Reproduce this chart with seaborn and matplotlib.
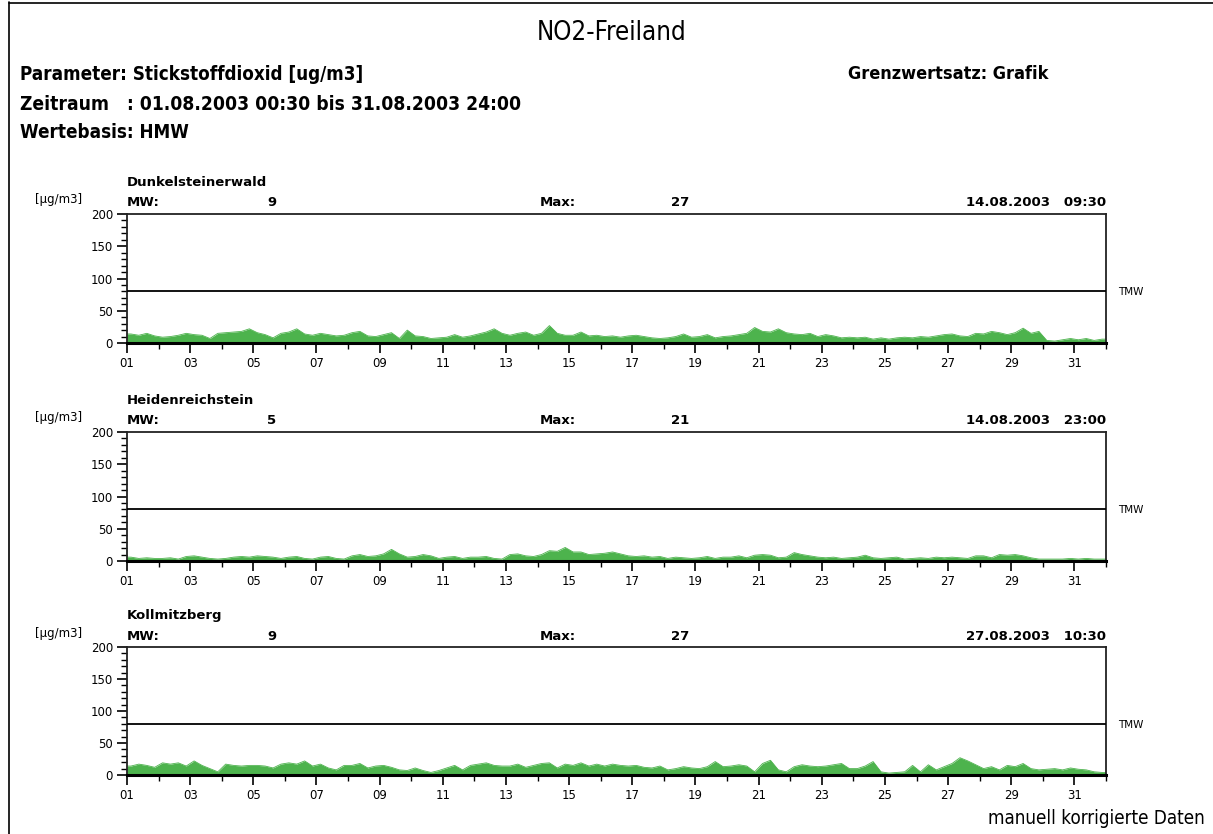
import numpy as np
import pandas as pd
import matplotlib
matplotlib.use("Agg")
import matplotlib.pyplot as plt
from matplotlib.lines import Line2D
from matplotlib.ticker import MultipleLocator, FixedLocator
import seaborn as sns

# ---------------- data (6-hourly readings, 4 per day, 01.08 - 31.08.2003) ----------------
stations = ["Dunkelsteinerwald", "Heidenreichstein", "Kollmitzberg"]
mw_values = ["9", "5", "9"]
max_values = ["27", "21", "27"]
max_times = ["14.08.2003   09:30", "14.08.2003   23:00", "27.08.2003   10:30"]
tmw_limit = 80

dunkel = [14, 12, 15, 11,  9, 10, 12, 15,  13, 12, 7, 15,  16, 17, 18, 22,
          16, 13, 8, 15,  17, 22, 14, 12,  15, 13, 11, 12,  16, 18, 11, 10,
          13, 16, 7, 20,  11, 10, 7, 8,  9, 13, 9, 11,  14, 17, 22, 15,
          12, 15, 17, 12,  15, 27, 15, 12,  12, 17, 11, 12,  10, 11, 9, 11,
          12, 10, 8, 7,  8, 10, 14, 9,  10, 13, 8, 10,  11, 13, 15, 24,
          18, 17, 22, 16,  14, 13, 15, 10,  13, 11, 8, 9,  8, 9, 6, 8,
          6, 8, 9, 8,  10, 9, 11, 13,  14, 11, 10, 15,  14, 18, 16, 13,
          16, 23, 15, 18,  4, 3, 5, 7,  5, 7, 4, 6]

heiden = [6, 4, 5, 4,  4, 5, 3, 7,  8, 6, 4, 3,  4, 6, 7, 6,
          8, 7, 6, 4,  6, 7, 4, 3,  6, 7, 4, 3,  8, 10, 7, 8,
          11, 18, 11, 6,  7, 10, 8, 4,  6, 7, 4, 6,  6, 7, 4, 3,
          10, 11, 8, 7,  10, 16, 15, 21,  14, 14, 10, 11,  12, 14, 11, 8,
          7, 8, 6, 7,  4, 6, 5, 4,  5, 7, 4, 6,  6, 8, 5, 9,
          10, 9, 5, 6,  13, 10, 8, 6,  5, 6, 4, 5,  6, 9, 5, 4,
          5, 6, 3, 4,  5, 4, 6, 5,  6, 5, 4, 8,  8, 5, 10, 9,
          10, 8, 5, 3,  3, 3, 3, 4,  3, 4, 3, 3]

kollm = [14, 17, 15, 12,  19, 17, 19, 14,  22, 15, 10, 5,  17, 15, 14, 15,
         15, 14, 11, 17,  19, 17, 22, 14,  17, 11, 8, 15,  15, 18, 11, 14,
         15, 12, 8, 7,  11, 7, 4, 7,  11, 15, 8, 15,  17, 19, 15, 14,
         14, 17, 12, 15,  18, 19, 11, 17,  15, 19, 14, 17,  14, 17, 15, 14,
         15, 12, 11, 14,  8, 10, 13, 11,  10, 13, 21, 13,  14, 16, 14, 5,
         18, 23, 8, 5,  13, 16, 14, 13,  14, 16, 18, 10,  10, 14, 21, 5,
         3, 4, 5, 15,  5, 16, 8, 13,  18, 27, 22, 16,  10, 13, 8, 15,
         13, 18, 10, 8,  9, 10, 8, 11,  9, 8, 5, 4]

series = [dunkel, heiden, kollm]
day_labels = ["01", "03", "05", "07", "09", "11", "13", "15", "17", "19",
              "21", "23", "25", "27", "29", "31"]
y_major = [0, 50, 100, 150, 200]
steps_per_day = 4

# ---------------- style ----------------
sns.set_theme(style="white")
plt.rcParams["font.family"] = ["DejaVu Sans"]
plt.rcParams["text.color"] = "black"
plt.rcParams["xtick.color"] = "black"
plt.rcParams["ytick.color"] = "black"
green = "#4db34d"

W, H = 1213, 834
fig = plt.figure(figsize=(W / 100, H / 100), dpi=100)
fig.patch.set_facecolor("white")


def fx(px):
    return px / W


def fy(py):
    return 1 - py / H


# outer frame (left & top visible)
fig.add_artist(Line2D([fx(8.5), fx(8.5)], [fy(2), fy(834)], color="black", lw=1.2))
fig.add_artist(Line2D([fx(8.5), fx(1213)], [fy(2.5), fy(2.5)], color="black", lw=1.2))

# header texts
hdr = dict(fontstretch="condensed", fontweight="bold", ha="left", va="center",
           color="black")
fig.text(fx(612), fy(33), "NO2-Freiland", fontsize=18.5, fontstretch="condensed",
         ha="center", va="center", color="black")
fig.text(fx(20), fy(74), "Parameter: Stickstoffdioxid [ug/m3]", fontsize=13.5, **hdr)
fig.text(fx(848), fy(74), "Grenzwertsatz: Grafik", fontsize=13, **hdr)
fig.text(fx(20), fy(104), "Zeitraum   : 01.08.2003 00:30 bis 31.08.2003 24:00",
         fontsize=13.8, **hdr)
fig.text(fx(20), fy(132), "Wertebasis: HMW", fontsize=13.5, **hdr)
fig.text(fx(1205), fy(818), "manuell korrigierte Daten", fontsize=13.5,
         fontstretch="condensed", ha="right", va="center", color="black")

ax_left, ax_right = 127, 1106
tops = [214, 432, 647]
bottoms = [343, 561, 775]

for i, vals in enumerate(series):
    top, bot = tops[i], bottoms[i]
    ax = fig.add_axes([fx(ax_left), fy(bot), (ax_right - ax_left) / W, (bot - top) / H])
    x = 1 + (np.arange(len(vals)) + 0.5) / steps_per_day
    xs = np.concatenate([[1.0], x, [32.0]])
    ys = np.concatenate([[vals[0]], np.array(vals, dtype=float), [vals[-1]]])
    df = pd.DataFrame({"day": xs, "value": ys})
    sns.lineplot(data=df, x="day", y="value", color=green, lw=0.6, ax=ax)
    ax.fill_between(df["day"], df["value"], color=green, lw=0)
    ax.axhline(tmw_limit, color="black", lw=1.3, zorder=3)

    ax.set_xlim(1, 32)
    ax.set_ylim(0, 200)
    ax.set_xlabel("")
    ax.set_ylabel("")
    ax.set_facecolor("white")
    for side in ["top", "right", "left"]:
        ax.spines[side].set_color("#222222")
        ax.spines[side].set_linewidth(1.3)
    ax.spines["bottom"].set_color("black")
    ax.spines["bottom"].set_linewidth(2.2)

    ax.yaxis.set_major_locator(FixedLocator(y_major))
    ax.yaxis.set_minor_locator(MultipleLocator(10))
    ax.set_yticklabels([str(v) for v in y_major], fontsize=8.5)
    ax.xaxis.set_major_locator(FixedLocator(list(range(1, 32, 2))))
    ax.xaxis.set_minor_locator(FixedLocator(list(range(1, 33))))
    ax.set_xticklabels(day_labels, fontsize=8.5)
    ax.tick_params(axis="both", which="major", direction="out", length=7,
                   width=1.2, color="black", pad=3, left=True, bottom=True)
    ax.tick_params(axis="both", which="minor", direction="out", length=4,
                   width=1.0, color="black", left=True, bottom=True)

    # TMW label
    y_tmw = bot - (bot - top) * tmw_limit / 200
    fig.text(fx(1118), fy(y_tmw + 1), "TMW", fontsize=7.5, ha="left", va="center")

    # panel headers
    fig.text(fx(127), fy(top - 32), stations[i], fontsize=9.5, fontweight="bold",
             ha="left", va="center")
    fig.text(fx(35), fy(top - 14), "[µg/m3]", fontsize=8.5, ha="left", va="center")
    fig.text(fx(127), fy(top - 11), "MW:", fontsize=9.5, fontweight="bold",
             ha="left", va="center")
    fig.text(fx(272), fy(top - 11), mw_values[i], fontsize=9.5, fontweight="bold",
             ha="center", va="center")
    fig.text(fx(540), fy(top - 11), "Max:", fontsize=9.5, fontweight="bold",
             ha="left", va="center")
    fig.text(fx(680), fy(top - 11), max_values[i], fontsize=9.5, fontweight="bold",
             ha="center", va="center")
    fig.text(fx(1106), fy(top - 11), max_times[i], fontsize=9.5, fontweight="bold",
             ha="right", va="center")

fig.savefig("out.png", dpi=100, facecolor="white")
